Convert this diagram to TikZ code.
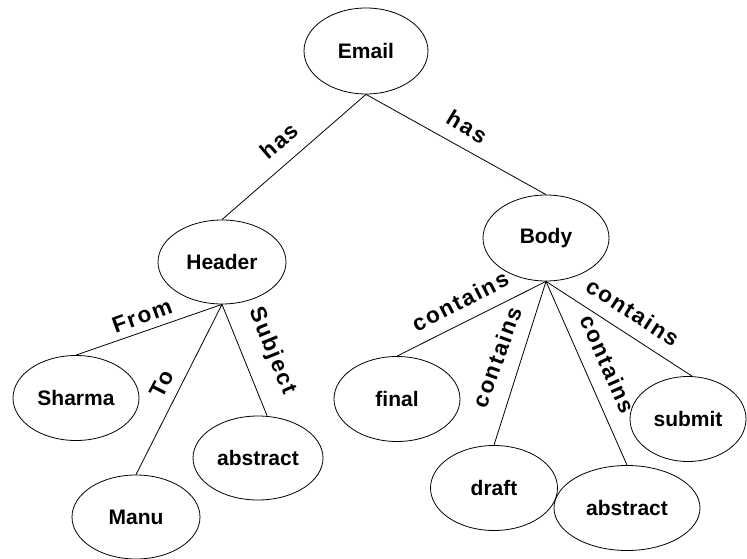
\documentclass[tikz,border=0pt]{standalone}
\usepackage{fontspec}
\setmainfont{Liberation Sans}
\usetikzlibrary{shapes.geometric}
\newfontfamily\lblfont[LetterSpace=8, BoldFont={Liberation Sans Bold}]{Liberation Sans}
\tikzset{
  concept/.style={draw, ellipse, line width=0.8pt, inner sep=0pt,
    font=\fontsize{21}{24}\selectfont\bfseries},
  link/.style={line width=0.8pt},
  rel/.style={inner sep=0pt, anchor=center, font=\fontsize{22.5}{26}\lblfont\bfseries}
}
\begin{document}
\begin{tikzpicture}[x=1pt, y={(0pt,-1pt)}]
\useasboundingbox (0,0) rectangle (747,559);
\fill[white] (0,0) rectangle (747,559);
% concepts
\node[concept, minimum width=124pt, minimum height=86pt] (email) at (366,51) {Email};
\node[concept, minimum width=128pt, minimum height=84pt] (header) at (222,262) {Header};
\node[concept, minimum width=126pt, minimum height=86pt] (body) at (546,238) {Body};
\node[concept, minimum width=126pt, minimum height=85pt] (sharma) at (76,398) {Sharma};
\node[concept, minimum width=128pt, minimum height=84pt] (manu) at (136,517) {Manu};
\node[concept, minimum width=130pt, minimum height=84pt] (abs1) at (258,458) {abstract};
\node[concept, minimum width=126pt, minimum height=85pt] (final) at (397,399) {final};
\node[concept, minimum width=127pt, minimum height=85pt] (draft) at (494,488) {draft};
\node[concept, minimum width=146pt, minimum height=85pt] (abs2) at (627,508) {abstract};
\node[concept, minimum width=116pt, minimum height=85pt] (submit) at (688,419) {submit};
% connectors
\draw[link] (email.south) -- (header.north);
\draw[link] (email.south) -- (body.north);
\draw[link] (header.south) -- (sharma.north);
\draw[link] (header.south) -- (manu.north);
\draw[link] (header.south) -- ([xshift=9pt]abs1.north);
\draw[link] (body.south) -- (final.north);
\draw[link] (body.south) -- (draft.north);
\draw[link] (body.south) -- (abs2.north);
\draw[link] (body.south) -- ([xshift=4pt]submit.north);
% relation labels
\node[rel, rotate=41] (l1) at (279,141) {has};
\node[rel, rotate=-31] (l2) at (467,127) {has};
\node[rel, rotate=20] (l3) at (142,316) {From};
\node[rel, rotate=63] (l4) at (162,384) {To};
\node[rel, rotate=-68] (l5) at (272,351) {Subject};
\node[rel, rotate=27] (l6) at (460,301) {contains};
\node[rel, rotate=70] (l7) at (497,357) {contains};
\node[rel, rotate=-66] (l8) at (608,364) {contains};
\node[rel, rotate=-33] (l9) at (633,312) {contains};
\end{tikzpicture}
\end{document}
